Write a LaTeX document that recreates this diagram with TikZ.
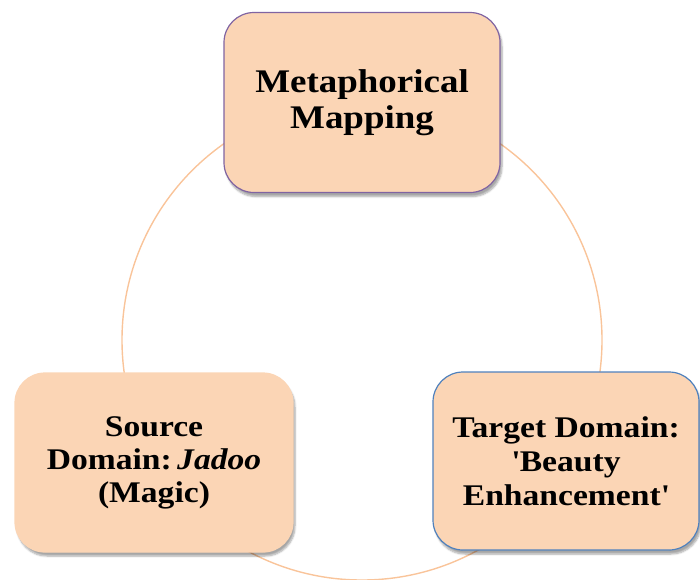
\documentclass[tikz,border=0pt]{standalone}
\usepackage{fontspec}
\setmainfont{Liberation Serif}[FakeStretch=1.12]
\usetikzlibrary{shadows.blur}
\definecolor{peach}{HTML}{FBD5B5}
\definecolor{ringline}{HTML}{F9C49A}
\definecolor{violetline}{HTML}{8064A2}
\definecolor{blueline}{HTML}{4F81BD}
\tikzset{
  conceptbox/.style={rounded corners=30pt, fill=peach, line width=1.2pt,
    align=center, inner sep=0pt,
    blur shadow={shadow xshift=2pt, shadow yshift=-4pt, shadow blur steps=6,
      shadow blur extra rounding=2pt, shadow opacity=35}},
}
\begin{document}
\begin{tikzpicture}[x=1pt, y=-1pt]
  \useasboundingbox (0,0) rectangle (700,579);
  \clip (0,0) rectangle (700,579);
  % ring linking the three domains
  \draw[ringline, line width=1.4pt] (362,340) circle (240);
  % mapping box at the top
  \node[conceptbox, draw=violetline, minimum width=276pt, minimum height=180pt,
    font=\fontsize{33}{36}\selectfont\bfseries]
    (mapping) at (362,102.5)
    {Metaphorical\\Mapping};
  % source domain, lower left
  \node[conceptbox, draw=peach, minimum width=278pt, minimum height=179pt,
    font=\fontsize{30}{33}\selectfont\bfseries]
    (source) at (154,462.5)
    {Source\\Domain:\hspace{0.18em}\textit{Jadoo}\\(Magic)};
  % target domain, lower right
  \node[conceptbox, draw=blueline, minimum width=266pt, minimum height=178pt,
    font=\fontsize{30}{34}\selectfont\bfseries]
    (target) at (566,461)
    {Target Domain:\\\textquotesingle Beauty\\Enhancement\textquotesingle};
\end{tikzpicture}
\end{document}
